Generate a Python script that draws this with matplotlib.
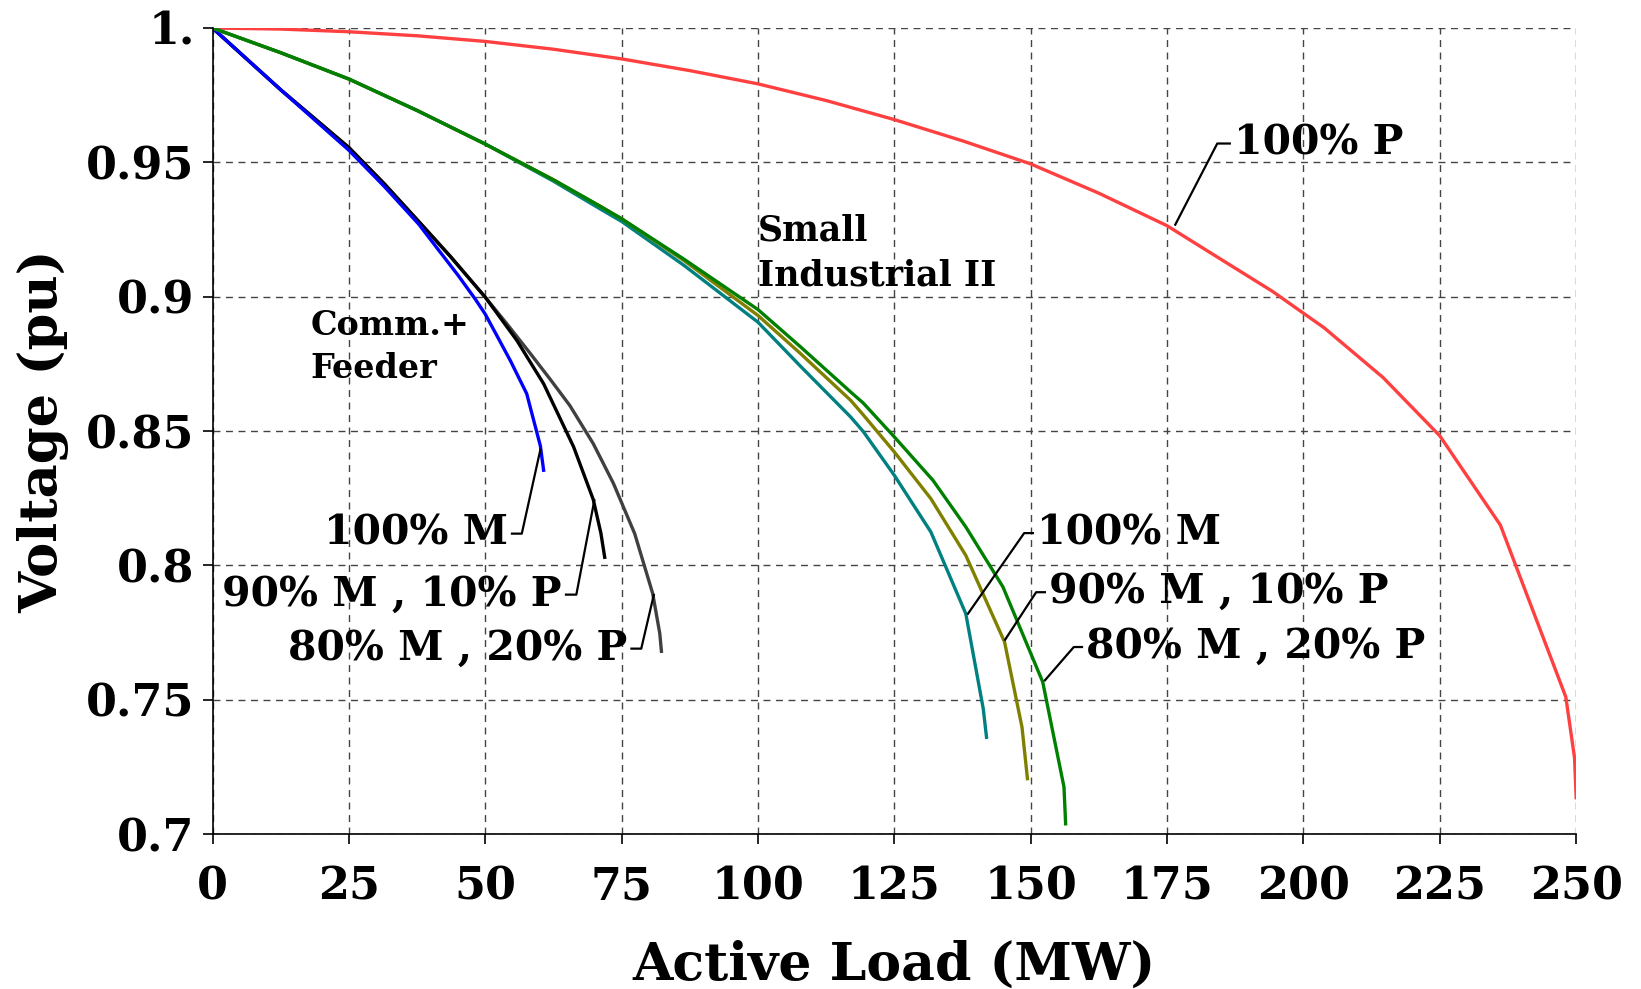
import numpy as np
import matplotlib
matplotlib.use('Agg')
import matplotlib.pyplot as plt

plt.rcParams['font.family'] = ['DejaVu Serif']
plt.rcParams['font.weight'] = 'bold'

# Comm.+Feeder curves
p_comm_100m = [0, 12.5, 25, 31.5, 37.8, 41.2, 45, 48.2, 50, 52, 54.6, 57.6, 60.1, 60.7]
v_comm_100m = [1.0, 0.977, 0.9545, 0.941, 0.927, 0.918, 0.908, 0.899, 0.8935, 0.886, 0.8762, 0.8639, 0.8445, 0.8354]

p_comm_90m = [0, 12.5, 25, 31.5, 37.8, 43.6, 50, 55.8, 60.7, 66.2, 69.8, 71.2, 71.9]
v_comm_90m = [1.0, 0.977, 0.9555, 0.942, 0.928, 0.915, 0.8998, 0.8837, 0.8676, 0.8441, 0.8245, 0.812, 0.803]

p_comm_80m = [0, 12.5, 25, 31.5, 37.8, 43.6, 50, 54, 58.2, 62, 65.5, 69.8, 73.5, 77.4, 80.7, 82.0, 82.3]
v_comm_80m = [1.0, 0.977, 0.9555, 0.942, 0.928, 0.915, 0.8998, 0.8898, 0.879, 0.869, 0.8595, 0.8453, 0.8305, 0.8118, 0.7895, 0.7746, 0.768]

# Small Industrial II curves
p_ind_80m = [0, 12.5, 25, 37.5, 50, 62.5, 71.2, 75, 86.4, 100, 107.7, 117, 119.3, 125, 132.1, 138.1, 144.9, 152.2, 156.1, 156.4]
v_ind_80m = [1.0, 0.9908, 0.981, 0.9693, 0.9568, 0.9435, 0.9335, 0.929, 0.914, 0.8952, 0.8815, 0.8645, 0.8604, 0.8478, 0.8316, 0.8143, 0.792, 0.7566, 0.7175, 0.7038]

p_ind_90m = [0, 12.5, 25, 37.5, 50, 62.5, 71.2, 75, 86.4, 100, 107.7, 117, 119.3, 125, 131.7, 138.1, 145.2, 148.4, 149.4]
v_ind_90m = [1.0, 0.9908, 0.981, 0.9693, 0.9568, 0.9435, 0.9335, 0.929, 0.9135, 0.893, 0.879, 0.8614, 0.856, 0.8422, 0.8248, 0.8037, 0.7715, 0.7398, 0.7206]

p_ind_100m = [0, 12.5, 25, 37.5, 50, 62.5, 71.2, 75, 86.4, 100, 107.7, 117, 119.3, 125, 131.7, 138.1, 141.3, 141.9]
v_ind_100m = [1.0, 0.9908, 0.981, 0.9693, 0.9568, 0.943, 0.9325, 0.928, 0.9117, 0.8905, 0.8743, 0.8552, 0.8498, 0.8335, 0.8124, 0.782, 0.7466, 0.736]

# 100% P curve
p_100p = [0, 12.5, 25, 37.5, 50, 62.5, 75, 87.6, 100, 112.5, 125, 137.5, 150, 162.5, 175, 184.8, 194.3, 203.8, 214.6, 225, 236.1, 248.1, 249.7, 250]
v_100p = [1.0, 0.9996, 0.9986, 0.9971, 0.995, 0.9921, 0.9885, 0.9841, 0.9792, 0.973, 0.9659, 0.958, 0.9494, 0.9385, 0.9264, 0.914, 0.902, 0.8884, 0.8699, 0.8482, 0.815, 0.751, 0.7283, 0.7135]

xticks = [0, 25, 50, 75, 100, 125, 150, 175, 200, 225, 250]
yticks = [0.7, 0.75, 0.8, 0.85, 0.9, 0.95, 1.0]
ytick_labels = ['0.7', '0.75', '0.8', '0.85', '0.9', '0.95', '1.']

fig = plt.figure(figsize=(16.41, 9.89), dpi=100)
ax = fig.add_axes([0.1295, 0.1567, 0.831, 0.815])

lw = 2.4
ax.plot(p_100p, v_100p, color='#ff4040', lw=lw)
ax.plot(p_comm_80m, v_comm_80m, color='#404040', lw=lw)
ax.plot(p_comm_90m, v_comm_90m, color='k', lw=lw)
ax.plot(p_comm_100m, v_comm_100m, color='#0000ff', lw=lw)
ax.plot(p_ind_100m, v_ind_100m, color='#008080', lw=lw)
ax.plot(p_ind_90m, v_ind_90m, color='#808000', lw=lw)
ax.plot(p_ind_80m, v_ind_80m, color='#008000', lw=lw)

ax.set_xlim(0, 250)
ax.set_ylim(0.7, 1.0)
ax.set_xticks(xticks)
ax.set_yticks(yticks)
ax.set_yticklabels(ytick_labels)
ax.tick_params(direction='out', length=7, width=1.2, labelsize=32, pad=6)
ax.tick_params(axis='x', pad=16)
for s in ['top', 'right']:
    ax.spines[s].set_visible(False)
for s in ['left', 'bottom']:
    ax.spines[s].set_linewidth(1.2)

ax.grid(True, ls=(0, (5, 4)), color='#444444', lw=1.0)
ax.set_axisbelow(True)

ax.set_xlabel('Active Load (MW)', fontsize=37.5, fontweight='bold', labelpad=22)
ax.set_ylabel('Voltage (pu)', fontsize=38, fontweight='bold', labelpad=12)

# group labels
ax.text(18, 0.8955, 'Comm.+\nFeeder', fontsize=24, fontweight='bold', va='top', linespacing=1.4)
ax.text(100, 0.931, 'Small\nIndustrial II', fontsize=25, fontweight='bold', va='top', linespacing=1.4)

# leader-line labels
def leader(pts, txt, ha):
    xs = [p[0] for p in pts]
    ys = [p[1] for p in pts]
    ax.plot(xs, ys, color='k', lw=1.6)
    off = 0.8 if ha == 'left' else -0.8
    ax.text(xs[-1] + off, ys[-1], txt, fontsize=29.5, fontweight='bold', ha=ha, va='center')

leader([(176.5, 0.9268), (184.2, 0.957), (186.5, 0.957)], '100% P', 'left')
leader([(60.1, 0.843), (56.7, 0.8118), (54.9, 0.8118)], '100% M', 'right')
leader([(70.0, 0.8242), (66.7, 0.7891), (64.8, 0.7891)], '90% M , 10% P', 'right')
leader([(80.9, 0.789), (78.6, 0.769), (76.8, 0.769)], '80% M , 20% P', 'right')
leader([(138.5, 0.782), (148.8, 0.812), (150.4, 0.812)], '100% M', 'left')
leader([(145.3, 0.7723), (151.0, 0.790), (152.6, 0.790)], '90% M , 10% P', 'left')
leader([(152.6, 0.7572), (157.9, 0.7696), (159.4, 0.7696)], '80% M , 20% P', 'left')

plt.savefig('out.png', dpi=100)
